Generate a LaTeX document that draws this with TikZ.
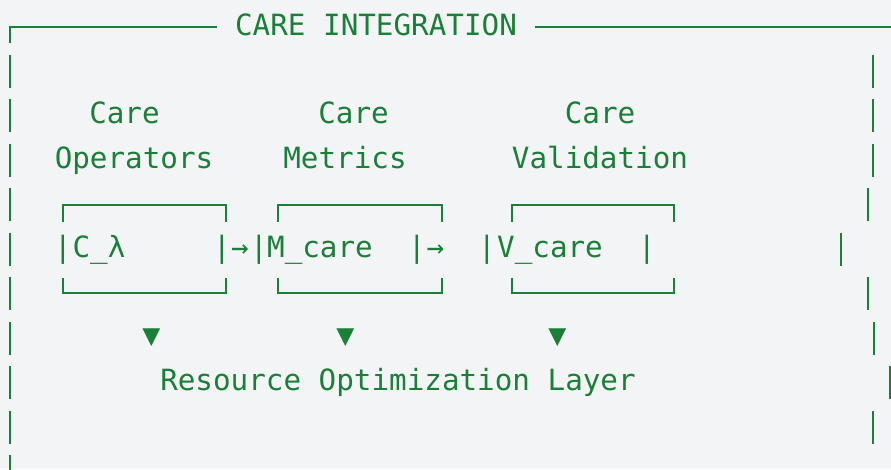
\documentclass[tikz,border=0pt]{standalone}
\usepackage{fontspec}
\usetikzlibrary{positioning}
\newfontfamily\caremono{DejaVu Sans Mono}
\definecolor{careink}{HTML}{1A7F37}
\definecolor{carebg}{HTML}{F3F4F6}

\begin{document}
\begin{tikzpicture}[x=1pt,y=-1pt,
        txt/.style={text=careink,font=\caremono\fontsize{29.25}{35}\selectfont,inner sep=0pt,anchor=base},
        tri/.style={text=careink,font=\caremono\fontsize{30}{35}\selectfont,inner sep=0pt,anchor=center},
        rule/.style={draw=careink,line width=2.6pt}]
        \fill[carebg] (0,0) rectangle (891,469);
        \clip (0,0) rectangle (891,469);

        % outer frame
        \coordinate (corner) at (10,43);
        \draw[rule] (corner) |- (217,27);
        \draw[rule] (535,27) -- (895,27);
        \foreach \r in {1,...,10}
            \draw[rule] (10,26.5+44.5*\r-16.5) -- (10,26.5+44.5*\r+16.5);
        \foreach \r/\x in {1/873,2/873,3/873,4/868,5/841,6/868,7/874,8/890,9/873}
            \draw[rule] (\x,26.5+44.5*\r-16.5) -- (\x,26.5+44.5*\r+16.5);

        \node[txt] (title) at (376,35) {CARE INTEGRATION};

        % headings
        \node[txt] (op_t) at (124.5,123) {Care};
        \node[txt] (op_b) at (134,168)   {Operators};
        \node[txt] (me_t) at (353.5,123) {Care};
        \node[txt] (me_b) at (345,168)   {Metrics};
        \node[txt] (va_t) at (600,123)   {Care};
        \node[txt] (va_b) at (600,168)   {Validation};

        % boxes
        \foreach \a/\b in {63/226,278/442,512/674} {
            \draw[rule] (\a,222) |- (\b,205) -- (\b,222);
            \draw[rule] (\a,278) |- (\b,293) -- (\b,278);
        }
        \node[txt] (c_l)   at (63,257)    {|};
        \node[txt] (c_lam) at (99,257)    {C\_λ};
        \node[txt] (c_r)   at (222,257)   {|};
        \node[txt] (a_1)   at (240,257)   {→};
        \node[txt] (m_l)   at (259,257)   {|};
        \node[txt] (m_c)   at (320,257)   {M\_care};
        \node[txt] (m_r)   at (417,257)   {|};
        \node[txt] (a_2)   at (435.5,257) {→};
        \node[txt] (v_l)   at (487,257)   {|};
        \node[txt] (v_c)   at (550,257)   {V\_care};
        \node[txt] (v_r)   at (647,257)   {|};

        % down marks
        \node[tri] (d_1) at (151.5,337.5) {▼};
        \node[tri] (d_2) at (345.5,337.5) {▼};
        \node[tri] (d_3) at (557.5,337.5) {▼};

        \node[txt] (layer) at (398,390.5) {Resource Optimization Layer};
\end{tikzpicture}
\end{document}
